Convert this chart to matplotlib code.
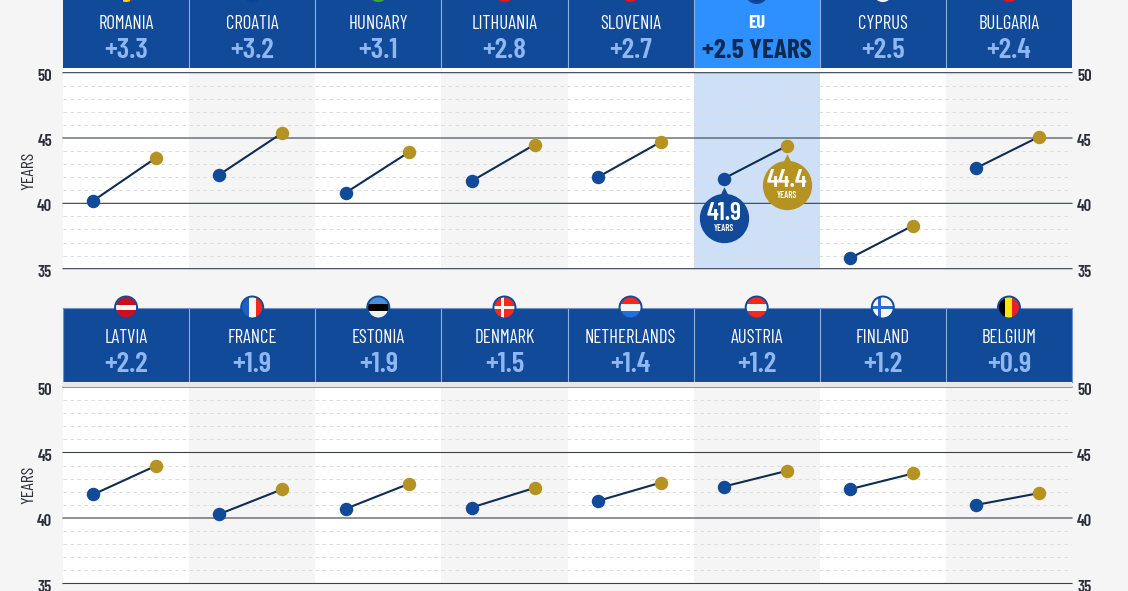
import matplotlib
matplotlib.use('Agg')
from matplotlib import pyplot as plt
from matplotlib.patches import Circle, Rectangle
from matplotlib.transforms import ScaledTranslation, offset_copy

W, H = 1128, 591
BG = '#f5f5f5'
BLUE = '#114a98'
BRIGHT = '#2e8fff'
GOLD = '#b59322'
LINE = '#0f2d52'
LIGHT = '#8fb8f3'
INK = '#2b2d38'
FONT = ['Barlow Condensed', 'Liberation Sans', 'DejaVu Sans']

top_names = ['ROMANIA', 'CROATIA', 'HUNGARY', 'LITHUANIA', 'SLOVENIA', 'EU', 'CYPRUS', 'BULGARIA']
top_change = ['+3.3', '+3.2', '+3.1', '+2.8', '+2.7', '+2.5 YEARS', '+2.5', '+2.4']
top_start = [40.2, 42.2, 40.8, 41.7, 42.0, 41.9, 35.8, 42.7]
top_end = [43.5, 45.4, 43.9, 44.5, 44.7, 44.4, 38.3, 45.1]

bottom_names = ['LATVIA', 'FRANCE', 'ESTONIA', 'DENMARK', 'NETHERLANDS', 'AUSTRIA', 'FINLAND', 'BELGIUM']
bottom_change = ['+2.2', '+1.9', '+1.9', '+1.5', '+1.4', '+1.2', '+1.2', '+0.9']
bottom_start = [41.8, 40.3, 40.7, 40.8, 41.3, 42.4, 42.2, 41.0]
bottom_end = [44.0, 42.2, 42.6, 42.3, 42.7, 43.6, 43.4, 41.9]

# flag stripes: direction, colours
top_flags = [('v', ['#0b3f9c', '#fcd116', '#e8202a']), ('h', ['#e8202a', '#f5f5f5', '#0b3f9c']),
             ('h', ['#d8283a', '#f5f5f5', '#3ca82c']), ('h', ['#f0c420', '#1f8a4c', '#f01020']),
             ('h', ['#f5f5f5', '#2a62c8', '#f01020']), ('h', ['#0b3f9c', '#0b3f9c', '#0b3f9c']),
             ('h', ['#f5f5f5', '#f5f5f5', '#f5f5f5']), ('h', ['#f5f5f5', '#1f8a4c', '#f01020'])]
bottom_flags = [('h', ['#c8101e', '#c8101e', '#f5f5f5', '#c8101e', '#c8101e']), ('v', ['#1f5fc0', '#f5f5f5', '#f5281e']),
                ('h', ['#4a90d8', '#000000', '#f0f0f0']), ('h', ['#f5281e']),
                ('h', ['#f5281e', '#f5f5f5', '#2070e0']), ('h', ['#f5281e', '#f5f5f5', '#f5281e']),
                ('h', ['#f5f5f5']), ('v', ['#000000', '#ffe600', '#e8202a'])]
flag_crosses = {3: ('#f5f5f5', -2), 6: ('#2a6ad0', -3)}


def px_axes(fig, x0, y0, x1, y1):
    return fig.add_axes([x0 / W, 1 - y1 / H, (x1 - x0) / W, (y1 - y0) / H])


def draw_flag(ov, cx, cy, flag, cross=None):
    direction, colours = flag
    r = 10.5
    clip = Circle((cx, cy), r, transform=ov.transData)
    n = len(colours)
    rects = []
    for i, col in enumerate(colours):
        if direction == 'h':
            rects.append(Rectangle((cx - r, cy - r + 2 * r * i / n), 2 * r, 2 * r / n, fc=col, lw=0))
        else:
            rects.append(Rectangle((cx - r + 2 * r * i / n, cy - r), 2 * r / n, 2 * r, fc=col, lw=0))
    if cross:
        col, dx = cross
        rects.append(Rectangle((cx + dx - 1.5, cy - r), 3, 2 * r, fc=col, lw=0))
        rects.append(Rectangle((cx - r, cy - 1.5), 2 * r, 3, fc=col, lw=0))
    for rect in rects:
        ov.add_patch(rect)
        rect.set_clip_path(clip)
    ov.add_patch(Circle((cx, cy), r + 0.5, fc='none', ec=BLUE, lw=1.4))


def draw_panel(fig, ov, names, change, start, end, flags, head_top, head_bottom, y50, y35,
               highlight=None, crosses={}, year_y=171, gap_colour='white', border=False):
    ax = px_axes(fig, 63, y50, 1072, y35)
    ax.set_xlim(0, 8)
    ax.set_ylim(35, 50)
    ax.set_facecolor('white')
    for s in ax.spines.values():
        s.set_visible(False)
    ax.set_xticks([])
    ax.set_yticks([35, 40, 45, 50])
    ax.tick_params(axis='y', length=0, labelleft=True, labelright=True, pad=0)
    left = ScaledTranslation(-11 / 100, -2 / 100, fig.dpi_scale_trans)
    right = ScaledTranslation(5 / 100, -2 / 100, fig.dpi_scale_trans)
    for tick in ax.yaxis.get_major_ticks():
        for lab, shift in [(tick.label1, left), (tick.label2, right)]:
            lab.set(fontfamily=FONT, fontsize=12, fontweight=600, color=INK)
            lab.set_transform(lab.get_transform() + shift)

    for i in range(8):
        if i == highlight:
            ax.axvspan(i, i + 1, color='#cde0f8', lw=0, zorder=0)
        elif i % 2 == 1:
            ax.axvspan(i, i + 1, color=BG, lw=0, zorder=0)

    for v in range(36, 50):
        if v % 5:
            ax.axhline(v, color='#dcdcdc', lw=0.72, dashes=(3.5, 3.5), zorder=1)
    for v in [35, 40, 45, 50]:
        ax.axhline(v, color='#3c3f4c', lw=0.8, zorder=2, snap=False, clip_on=False)

    xs = [i + 0.24 for i in range(8)]
    xe = [i + 0.74 for i in range(8)]
    for a, b, c, d in zip(xs, xe, start, end):
        ax.plot([a, b], [c, d], color=LINE, lw=1.5, zorder=3, solid_capstyle='butt')
    ax.plot(xs, start, 'o', color=BLUE, ms=9.7, mew=0, zorder=4)
    ax.plot(xe, end, 'o', color=GOLD, ms=9.7, mew=0, zorder=4)

    if highlight is not None:
        spike = [(-1, 0), (-0.35, 0.3), (0, 1), (0.35, 0.3), (1, 0)]
        for x, v, col in [(xs[highlight], start[highlight], BLUE), (xe[highlight], end[highlight], GOLD)]:
            bubble = offset_copy(ax.transData, fig=fig, y=-39, units='dots')
            ax.plot([x], [v], 'o', color=col, ms=35.5, mew=0, zorder=5, transform=bubble, clip_on=False)
            tip = offset_copy(ax.transData, fig=fig, y=-19, units='dots')
            ax.plot([x], [v], marker=spike, color=col, ms=16, mew=0, zorder=5, transform=tip)
            ax.annotate('%.1f' % v, (x, v), xytext=(0, -35), textcoords='offset pixels', ha='center', va='center',
                        color='white', fontsize=18.5, fontweight=600, family=FONT, zorder=6)
            ax.annotate('YEARS', (x, v), xytext=(0, -50), textcoords='offset pixels', ha='center', va='center',
                        color='white', fontsize=6.5, fontweight=600, family=FONT, zorder=6)

    ov.add_patch(Rectangle((63, head_bottom), 1009, y50 - head_bottom - 0.5, fc=gap_colour, lw=0))

    head = px_axes(fig, 63, head_top, 1072, head_bottom)
    head.set_xlim(0, 8)
    head.set_ylim(0, 1)
    head.set_facecolor(BLUE)
    head.set_xticks([])
    head.set_yticks([])
    for s in head.spines.values():
        s.set_visible(border)
        s.set_color('#6b93cc')
        s.set_linewidth(0.8)
    for i in range(8):
        hl = i == highlight
        if hl:
            head.axvspan(i, i + 1, color=BRIGHT, lw=0)
        if i > 0:
            head.axvline(i, color='#8fb0dc', lw=0.8)
        cx = 63 + (i + 0.5) * 1009 / 8
        ov.text(cx, head_bottom - 44, names[i], ha='center', va='center', color='white', fontsize=13.5,
                family=FONT, fontweight=700 if hl else 400)
        ov.text(cx, head_bottom - 17, change[i], ha='center', va='center', color='#0f2a52' if hl else LIGHT,
                fontsize=19.5 if hl else 21, family=FONT, fontweight=700 if hl else 600)
        draw_flag(ov, cx, head_top, flags[i], crosses.get(i))
    ov.text(29, year_y, 'YEARS', rotation=90, ha='center', va='center', color=INK, fontsize=13, family=FONT)


fig = plt.figure(figsize=(W / 100, H / 100), dpi=100, facecolor=BG)

ov = fig.add_axes([0, 0, 1, 1], zorder=10)
ov.set_xlim(0, W)
ov.set_ylim(H, 0)
ov.axis('off')

draw_panel(fig, ov, top_names, top_change, top_start, top_end, top_flags, -8, 68, 72.67, 268.67,
           highlight=5, year_y=171)
draw_panel(fig, ov, bottom_names, bottom_change, bottom_start, bottom_end, bottom_flags, 307.5, 382, 387, 583.5,
           crosses=flag_crosses, year_y=485, gap_colour='#e8e8e8', border=True)

fig.savefig('out.png', dpi=100, facecolor=BG)
